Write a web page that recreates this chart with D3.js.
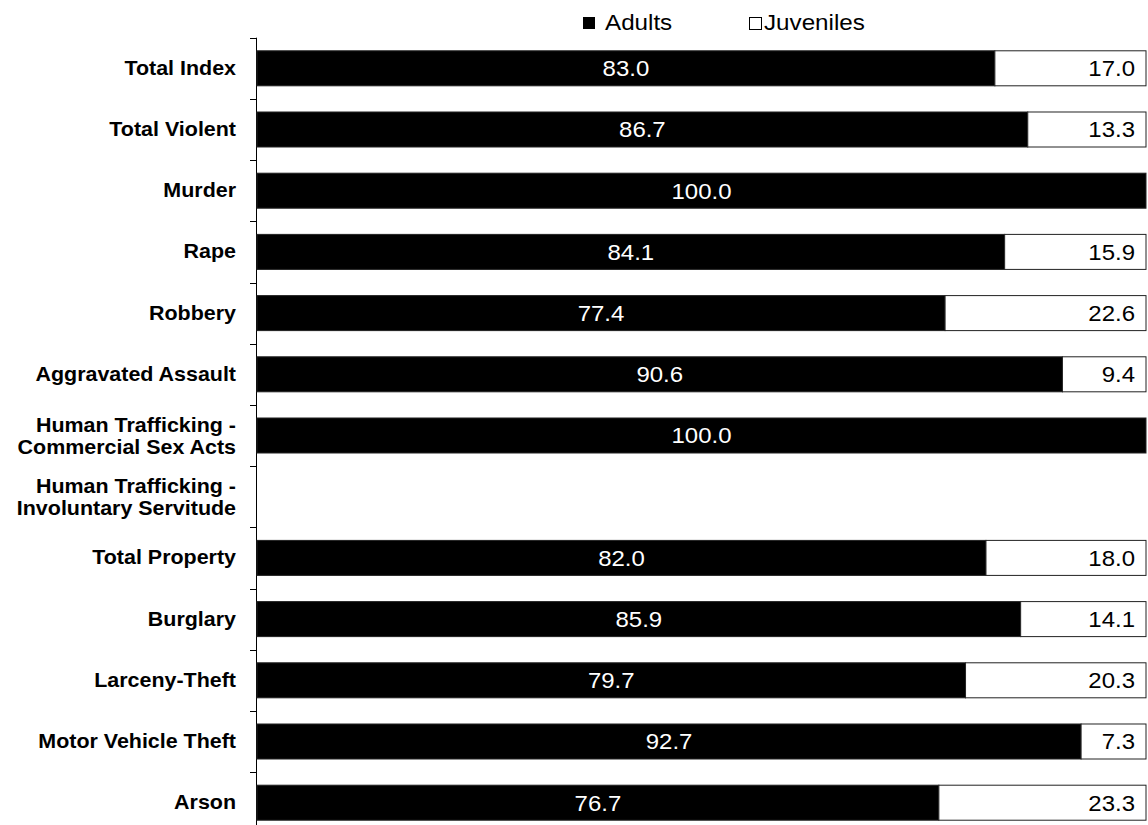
<!DOCTYPE html>
<html>
<head>
<meta charset="utf-8">
<script src="https://cdn.jsdelivr.net/npm/d3@7"></script>
<style>
  html, body { margin: 0; padding: 0; background: #fff; }
  svg { display: block; }
  text { font-family: "Liberation Sans", Arial, sans-serif; }
</style>
</head>
<body>
<script>
const categories = [
  "Total Index", "Total Violent", "Murder", "Rape", "Robbery", "Aggravated Assault",
  "Human Trafficking -\nCommercial Sex Acts", "Human Trafficking -\nInvoluntary Servitude",
  "Total Property", "Burglary", "Larceny-Theft", "Motor Vehicle Theft", "Arson"
];
const adults    = [83.0, 86.7, 100.0, 84.1, 77.4, 90.6, 100.0, null, 82.0, 85.9, 79.7, 92.7, 76.7];
const juveniles = [17.0, 13.3, 0,     15.9, 22.6, 9.4,  0,     null, 18.0, 14.1, 20.3, 7.3,  23.3];
const seriesNames = ["Adults", "Juveniles"];

const W = 1148, H = 825;
const svg = d3.select("body").append("svg").attr("width", W).attr("height", H);

const x = d3.scaleLinear().domain([0, 100]).range([257, 1146]);
const step = 61.2, top0 = 37.7;
const y = d3.scaleBand().domain(categories)
  .range([top0, top0 + step * categories.length])
  .paddingInner(0.428).paddingOuter(0.214);

const SX = 1.1; // horizontal text stretch

// axis line and ticks at band boundaries
const axisG = svg.append("g");
axisG.append("line")
  .attr("x1", 256.5).attr("x2", 256.5)
  .attr("y1", top0).attr("y2", top0 + step * categories.length)
  .attr("stroke", "#000").attr("stroke-width", 1);
d3.range(categories.length + 1).forEach(k => {
  const yy = Math.round(top0 + k * step) + 0.5;
  axisG.append("line").attr("x1", 250).attr("x2", 256.5)
    .attr("y1", yy).attr("y2", yy).attr("stroke", "#000");
});

// bars
const rows = categories.map((c, i) => ({c, a: adults[i], j: juveniles[i]}));
rows.forEach(r => {
  const by = y(r.c), bh = y.bandwidth();
  const cy = by + bh / 2;
  if (r.a != null && r.a > 0) {
    svg.append("rect")
      .attr("x", x(0)).attr("y", by)
      .attr("width", x(r.a) - x(0)).attr("height", bh)
      .attr("fill", "#000").attr("stroke", "#222").attr("stroke-width", 1);
    svg.append("text")
      .attr("transform", `translate(${(x(0) + x(r.a)) / 2},${cy + 7.8}) scale(${SX},1)`)
      .attr("text-anchor", "middle").attr("fill", "#fff")
      .attr("font-size", 21.8).text(r.a.toFixed(1));
  }
  if (r.j != null && r.j > 0) {
    svg.append("rect")
      .attr("x", x(r.a)).attr("y", by)
      .attr("width", x(r.a + r.j) - x(r.a)).attr("height", bh)
      .attr("fill", "#fff").attr("stroke", "#222").attr("stroke-width", 1);
    svg.append("text")
      .attr("transform", `translate(${x(r.a + r.j) - 11},${cy + 7.8}) scale(${SX},1)`)
      .attr("text-anchor", "end").attr("fill", "#000")
      .attr("font-size", 21.8).text(r.j.toFixed(1));
  }
});

// category labels
categories.forEach(c => {
  const cy = y(c) + y.bandwidth() / 2;
  const lines = c.split("\n");
  lines.forEach((ln, li) => {
    const off = lines.length === 1 ? 6.5 : (li === 0 ? -4 : 18);
    svg.append("text")
      .attr("transform", `translate(236,${cy + off}) scale(${SX},1)`)
      .attr("text-anchor", "end").attr("font-weight", "bold")
      .attr("font-size", 19.5).attr("fill", "#000").text(ln);
  });
});

// legend
const leg = svg.append("g");
leg.append("rect").attr("x", 583).attr("y", 17).attr("width", 12).attr("height", 12)
  .attr("fill", "#000");
leg.append("text").attr("transform", `translate(605,30) scale(${SX},1)`)
  .attr("font-size", 22).text(seriesNames[0]);
leg.append("rect").attr("x", 749.5).attr("y", 17.5).attr("width", 12).attr("height", 12)
  .attr("fill", "#fff").attr("stroke", "#000").attr("stroke-width", 1);
leg.append("text").attr("transform", `translate(764,30) scale(${SX},1)`)
  .attr("font-size", 22).text(seriesNames[1]);
</script>
</body>
</html>
